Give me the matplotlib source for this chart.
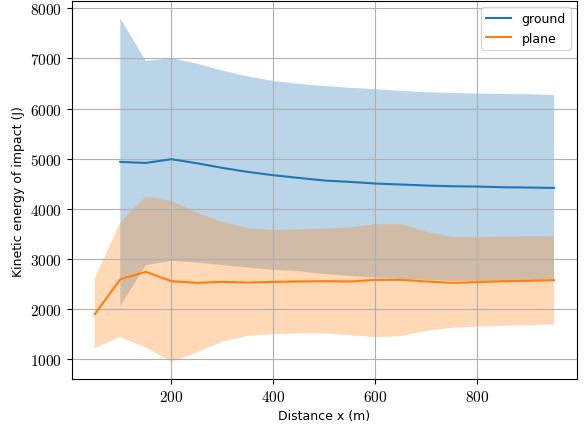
import numpy as np
import matplotlib.pyplot as plt
from matplotlib.ticker import FuncFormatter

plt.rcParams['mathtext.fontset'] = 'cm'
plt.rcParams['font.family'] = 'DejaVu Sans'

# plane: distances 50..950, ground: 100..950
x_plane = [50, 100, 150, 200, 250, 300, 350, 400, 450, 500,
           550, 600, 650, 700, 750, 800, 850, 900, 950]
x_ground = x_plane[1:]

ground_mean = [4935, 4915, 4989, 4909, 4816, 4736, 4670, 4616, 4564,
               4537, 4504, 4484, 4464, 4450, 4444, 4430, 4424, 4417]
ground_upper = [7800, 6950, 7003, 6898, 6758, 6638, 6551, 6490, 6450,
                6415, 6385, 6351, 6325, 6311, 6298, 6291, 6285, 6271]
ground_lower = [2064, 2876, 2962, 2929, 2876, 2829, 2782, 2756, 2700,
                2660, 2625, 2600, 2580, 2562, 2560, 2565, 2570, 2580]

plane_mean = [1898, 2596, 2742, 2556, 2523, 2543, 2530, 2543, 2550, 2556,
              2550, 2583, 2583, 2550, 2523, 2536, 2556, 2563, 2576]
plane_upper = [2610, 3727, 4245, 4158, 3925, 3739, 3613, 3580, 3593, 3607,
               3626, 3693, 3693, 3540, 3440, 3440, 3447, 3450, 3453]
plane_lower = [1220, 1446, 1234, 947, 1133, 1354, 1466, 1500, 1513, 1513,
               1480, 1440, 1460, 1566, 1626, 1653, 1666, 1680, 1693]

fig, ax = plt.subplots(figsize=(5.84, 4.27), dpi=100)
fig.subplots_adjust(left=0.123, right=0.988, top=0.995, bottom=0.11)

ax.plot(x_ground, ground_mean, label='ground')
ax.fill_between(x_ground, ground_lower, ground_upper, alpha=0.3)
ax.plot(x_plane, plane_mean, label='plane')
ax.fill_between(x_plane, plane_lower, plane_upper, alpha=0.3)

fmt = FuncFormatter(lambda v, p: r'$%d$' % v)
ax.xaxis.set_major_formatter(fmt)
ax.yaxis.set_major_formatter(fmt)
ax.tick_params(labelsize=11)

ax.set_xlabel('Distance x (m)', fontsize=9)
ax.set_ylabel('Kinetic energy of impact (J)', fontsize=9)
ax.grid(True)
ax.legend(loc='upper right', fontsize=9)

plt.savefig('out.png')
